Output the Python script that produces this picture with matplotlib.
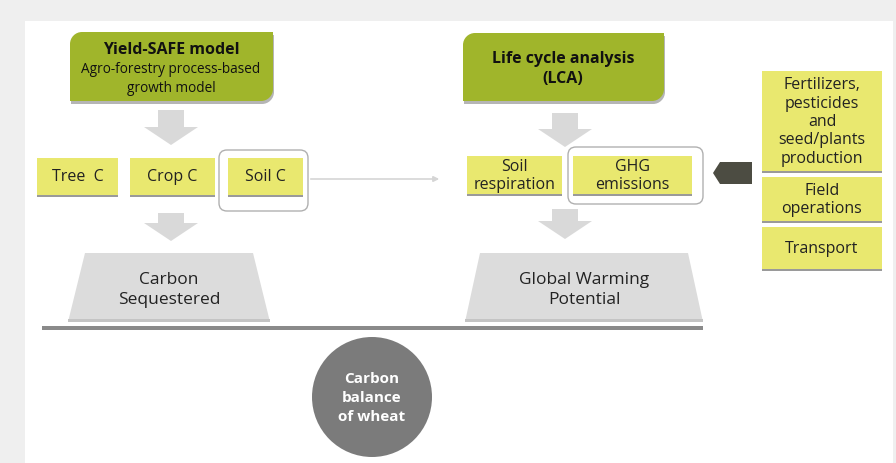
import matplotlib
matplotlib.use("Agg")
import matplotlib.pyplot as plt
from matplotlib.patches import Rectangle, Polygon, FancyBboxPatch, Ellipse, PathPatch
from matplotlib.path import Path

plt.rcParams['font.family'] = ['Open Sans', 'DejaVu Sans']

# labels of the diagram
model_title = "Yield-SAFE model"
model_sub = "Agro-forestry process-based\ngrowth model"
lca_title = "Life cycle analysis\n(LCA)"
pool_labels = ["Tree  C", "Crop C", "Soil C"]
lca_labels = ["Soil\nrespiration", "GHG\nemissions"]
input_labels = ["Fertilizers,\npesticides\nand\nseed/plants\nproduction", "Field\noperations", "Transport"]
pan_labels = ["Carbon\nSequestered", "Global Warming\nPotential"]
center_label = "Carbon\nbalance\nof wheat"

GREEN = "#a0b52b"
YELLOW = "#e9e86f"
LIGHT = "#dcdcdc"
GREY_ARROW = "#d9d9d9"
SHADOW = "#9a9a9a"

fig = plt.figure(figsize=(8.96, 4.64), dpi=100)
fig.patch.set_facecolor("#efefef")
ax = fig.add_axes([0, 0, 1, 1])
ax.set_xlim(0, 896)
ax.set_ylim(464, 0)
ax.axis("off")

# white panel
ax.add_patch(Rectangle((25, 22), 868, 442, facecolor="white", edgecolor="none"))


def diag_box(x0, y0, x1, y1, r, color):
    # rounded top-left and bottom-right corners
    k = 0.55 * r
    verts = [(x0, y0 + r), (x0, y0 + r - k), (x0 + r - k, y0), (x0 + r, y0),
             (x1, y0), (x1, y1 - r), (x1, y1 - r + k), (x1 - r + k, y1), (x1 - r, y1),
             (x0, y1), (x0, y0 + r)]
    codes = [Path.MOVETO, Path.CURVE4, Path.CURVE4, Path.CURVE4,
             Path.LINETO, Path.LINETO, Path.CURVE4, Path.CURVE4, Path.CURVE4,
             Path.LINETO, Path.CLOSEPOLY]
    sh = [(vx + 1, vy + 3) for vx, vy in verts]
    ax.add_patch(PathPatch(Path(sh, codes), facecolor="#b5b5b5", edgecolor="none"))
    ax.add_patch(PathPatch(Path(verts, codes), facecolor=color, edgecolor="none"))


def ybox(x0, y0, x1, y1, text, fs=11.5):
    ax.add_patch(Rectangle((x0, y0 + 2), x1 - x0, y1 - y0, facecolor=SHADOW, edgecolor="none"))
    ax.add_patch(Rectangle((x0, y0), x1 - x0, y1 - y0, facecolor=YELLOW, edgecolor="none"))
    ax.text((x0 + x1) / 2, (y0 + y1) / 2, text, ha="center", va="center",
            fontsize=fs, color="#222222", linespacing=1.2)


def down_arrow(cx, y0, y1, shaft=26, head=54, hlen=18):
    pts = [(cx - shaft / 2, y0), (cx + shaft / 2, y0), (cx + shaft / 2, y1 - hlen),
           (cx + head / 2, y1 - hlen), (cx, y1), (cx - head / 2, y1 - hlen),
           (cx - shaft / 2, y1 - hlen)]
    ax.add_patch(Polygon(pts, closed=True, facecolor=GREY_ARROW, edgecolor="none"))


# top green boxes
diag_box(70, 33, 273, 102, 12, GREEN)
ax.text(171, 50, model_title, ha="center", va="center", fontsize=11.5, fontweight="bold", color="#111111")
ax.text(171, 79, model_sub, ha="center", va="center", fontsize=9.8, color="#111111", linespacing=1.3)

diag_box(463, 34, 664, 102, 12, GREEN)
ax.text(563, 69, lca_title, ha="center", va="center", fontsize=11.5, fontweight="bold",
        color="#111111", linespacing=1.4)

# arrows down
down_arrow(171, 111, 146)
down_arrow(171, 214, 242)
down_arrow(565, 114, 148)
down_arrow(565, 210, 240)

# carbon pools
pool_x = [(37, 118), (130, 215), (228, 303)]
for (x0, x1), lab in zip(pool_x, pool_labels):
    ybox(x0, 159, x1, 196, lab)
ax.add_patch(FancyBboxPatch((219, 151), 89, 61, boxstyle="round,pad=0,rounding_size=8",
                            facecolor="none", edgecolor="#b0b0b0", lw=1.0))

# thin connector
ax.annotate("", xy=(442, 180), xytext=(308, 180),
            arrowprops=dict(arrowstyle="-|>", color="#d5d5d5", lw=1.2, mutation_scale=8))

# LCA boxes
lca_x = [(467, 562), (573, 692)]
for (x0, x1), lab in zip(lca_x, lca_labels):
    ybox(x0, 157, x1, 195, lab)
ax.add_patch(FancyBboxPatch((568, 148), 135, 57, boxstyle="round,pad=0,rounding_size=8",
                            facecolor="none", edgecolor="#b0b0b0", lw=1.0))

# dark pointer arrow
ax.add_patch(Polygon([(713, 174), (720, 163), (752, 163), (752, 185), (720, 185)],
                     closed=True, facecolor="#4c4c42", edgecolor="none"))

# input boxes
input_y = [(72, 172), (178, 222), (228, 270)]
for (y0, y1), lab in zip(input_y, input_labels):
    ybox(762, y0, 882, y1, lab)

# balance pans
pans = [((68, 270), (85, 253)), ((465, 703), (480, 688))]
for ((b0, b1), (t0, t1)), lab in zip(pans, pan_labels):
    ax.add_patch(Polygon([(b0, 323), (t0, 254), (t1, 254), (b1, 323)], closed=True,
                         facecolor=LIGHT, edgecolor="none"))
    ax.add_patch(Rectangle((b0, 320), b1 - b0, 3, facecolor="#c4c4c4", edgecolor="none"))
    ax.text((b0 + b1) / 2, 290, lab, ha="center", va="center", fontsize=12.5,
            color="#222222", linespacing=1.35)

# beam
ax.add_patch(Rectangle((42, 327), 661, 4, facecolor="#8a8a8a", edgecolor="none"))

# fulcrum
ax.add_patch(Ellipse((372, 398), 120, 120, facecolor="#7b7b7b", edgecolor="none"))
ax.text(372, 398, center_label, ha="center", va="center", fontsize=11, fontweight="bold",
        color="white", linespacing=1.45)

fig.savefig("out.png", dpi=100, facecolor=fig.get_facecolor())
